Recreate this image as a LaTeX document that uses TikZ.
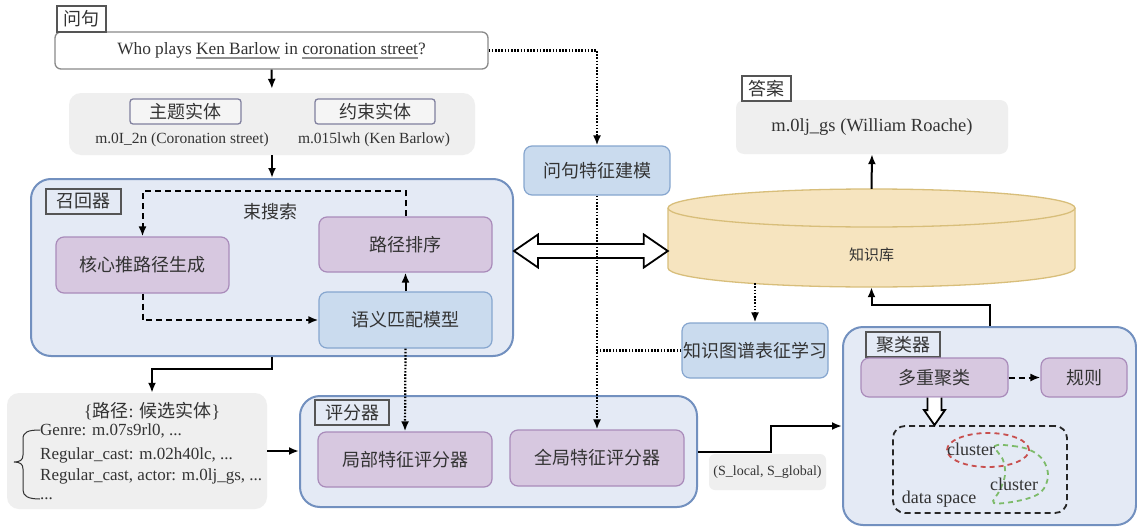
\documentclass[tikz,border=0pt]{standalone}
\usepackage{fontspec}
\setmainfont{Liberation Serif}
\newfontfamily\cjk{Noto Sans CJK SC}
\usetikzlibrary{calc,arrows.meta}
\definecolor{txt}{HTML}{333333}
\definecolor{purpfill}{HTML}{D7C8E0}
\definecolor{purpdraw}{HTML}{A98BBA}
\definecolor{blufill}{HTML}{CADBEE}
\definecolor{bludraw}{HTML}{86A6CF}
\definecolor{contfill}{HTML}{E4EAF5}
\definecolor{contdraw}{HTML}{7290BF}
\definecolor{grayfill}{HTML}{EFEFEF}
\definecolor{lbldraw}{HTML}{555555}
\definecolor{entdraw}{HTML}{80809E}
\definecolor{qdraw}{HTML}{8A8A8A}
\definecolor{ulgray}{HTML}{909090}
\definecolor{kbfill}{HTML}{F6E4BF}
\definecolor{kbdraw}{HTML}{D8BE7A}
\definecolor{redc}{HTML}{C8504F}
\definecolor{greenc}{HTML}{7DBB6A}
\newcommand{\cjkf}{\cjk\fontsize{18}{21}\selectfont}
\newcommand{\myul}[1]{\setbox0\hbox{#1}\rlap{\color{ulgray}\rule[-4.5pt]{\wd0}{1.8pt}}\box0\relax}
\tikzset{
  box/.style={rounded corners=8pt, line width=1.2pt, text=txt, font=\cjkf, inner sep=0pt},
  purp/.style={box, fill=purpfill, draw=purpdraw},
  blu/.style={box, fill=blufill, draw=bludraw},
  cont/.style={rounded corners=20pt, fill=contfill, draw=contdraw, line width=2pt, inner sep=0pt},
  lbl/.style={draw=lbldraw, line width=1.3pt, font=\cjkf, text=txt, inner sep=0pt},
  graybox/.style={rounded corners=12pt, fill=grayfill, draw=none, inner sep=0pt},
  entl/.style={draw=entdraw, fill=white!96!black, line width=1.3pt, rounded corners=3pt, font=\cjkf, text=txt, inner sep=0pt},
  serif/.style={font=\fontsize{15.5}{18}\selectfont, text=txt, inner sep=0pt},
  plist/.style={font=\fontsize{17}{20}\selectfont, text=txt, inner sep=0pt, anchor=west},
  arr/.style={line width=2pt, -{Latex[length=10pt,width=8pt]}},
  dsh/.style={arr, dash pattern=on 6pt off 4pt},
  dotl/.style={line width=2.2pt, dash pattern=on 1.6pt off 1.6pt},
  dotarr/.style={dotl, -{Latex[length=10pt,width=8pt]}},
  hollow/.style={fill=white, draw=black, line width=1.8pt, line join=miter},
}
\begin{document}
\begin{tikzpicture}[x=1pt,y=-1pt]
\useasboundingbox (0,0) rectangle (1137,527);
\fill[white] (0,0) rectangle (1137,527);

% question
\node[rounded corners=6pt, draw=qdraw, fill=white, line width=1.3pt, minimum width=433, minimum height=37, inner sep=0pt,
  font=\fontsize{17.3}{20}\selectfont, text=txt] (q) at (271.5,50.5) {Who plays \myul{Ken Barlow} in \myul{coronation street}?};
\node[lbl, fill=white, minimum width=49, minimum height=26] (ql) at (81.5,19) {问句};

% entities
\node[graybox, minimum width=406, minimum height=62] (ent) at (272,124) {};
\node[entl, minimum width=111, minimum height=25] (e1) at (185.5,111.5) {主题实体};
\node[entl, minimum width=120, minimum height=25] (e2) at (375,111.5) {约束实体};
\node[serif] (e1t) at (182,140) {m.0I\_2n (Coronation street)};
\node[serif] (e2t) at (374,140) {m.015lwh (Ken Barlow)};

% recall container
\node[cont, minimum width=482, minimum height=177] (rec) at (272,267.5) {};
\node[lbl, minimum width=75, minimum height=25] (recl) at (83.5,201.5) {召回器};
\node[purp, minimum width=173, minimum height=56] (core) at (142.5,265) {核心推路径生成};
\node[purp, minimum width=173, minimum height=55] (rank) at (405.5,244.5) {路径排序};
\node[blu, minimum width=173, minimum height=56] (sem) at (405.5,320) {语义匹配模型};
\node[font=\cjkf, text=txt, inner sep=0pt] (beam) at (270,212) {束搜索};

% paths box
\node[graybox, minimum width=260, minimum height=116] (paths) at (137,451) {};
\node[font=\fontsize{18}{21}\selectfont, text=txt, inner sep=0pt] (pt) at (152,411) {\{{\cjk 路径}: {\cjk 候选实体}\}};
\node[plist] (p1) at (40,431) {Genre: m.07s9rl0, ...};
\node[plist] (p2) at (40,455) {Regular\_cast: m.02h40lc, ...};
\node[plist] (p3) at (40,476) {Regular\_cast, actor: m.0lj\_gs, ...};
\node[plist, text height=3pt, text depth=0pt] (p4) at (40,498) {...};
\draw[txt, line width=1pt] (40,430) .. controls (28,430) and (23,432) .. (23,439) -- (23,455)
  .. controls (23,460) and (20,462) .. (14,462) .. controls (20,462) and (23,464) .. (23,469) -- (23,490)
  .. controls (23,496) and (28,499) .. (40,499);

% scorer
\node[cont, minimum width=397, minimum height=111] (score) at (498.5,451.5) {};
\node[lbl, minimum width=74, minimum height=25] (scorel) at (352,412.5) {评分器};
\node[purp, minimum width=174, minimum height=55] (local) at (405,459.5) {局部特征评分器};
\node[purp, minimum width=174, minimum height=56] (global) at (597,458) {全局特征评分器};

% question feature, kg learning
\node[blu, minimum width=146, minimum height=49] (qfeat) at (597,170.5) {问句特征建模};
\node[blu, minimum width=146, minimum height=55] (kgl) at (755,350.5) {知识图谱表征学习};

% knowledge base cylinder
\node[minimum width=407, minimum height=98, inner sep=0pt] (kb) at (871.5,238) {};
\fill[kbfill] (668,208) -- (668,268) arc[start angle=180, end angle=360, x radius=203.5pt, y radius=19pt] -- (1075,208) -- cycle;
\draw[kbdraw, line width=1.3pt] (668,208) -- (668,268) arc[start angle=180, end angle=360, x radius=203.5pt, y radius=19pt] -- (1075,208);
\filldraw[fill=kbfill, draw=kbdraw, line width=1.3pt] (871.5,208) ellipse [x radius=203.5pt, y radius=19pt];
\node[font=\cjk\fontsize{15}{18}\selectfont, text=txt, inner sep=0pt] (kbt) at (871.5,255) {知识库};

% answer
\node[graybox, rounded corners=8pt, minimum width=272, minimum height=54, font=\fontsize{18.5}{21}\selectfont, text=txt] (ans) at (872,127) {m.0lj\_gs (William Roache)};
\node[lbl, fill=white, minimum width=49, minimum height=25] (ansl) at (766.5,88.5) {答案};

% clusterer
\node[cont, minimum width=293, minimum height=198] (clu) at (989.5,426) {};
\node[lbl, minimum width=74, minimum height=25] (clul) at (903,344.5) {聚类器};
\node[purp, minimum width=147, minimum height=39] (multi) at (934.5,377.5) {多重聚类};
\node[purp, minimum width=86, minimum height=39] (rule) at (1084,377.5) {规则};
\node[draw=black!85, dash pattern=on 6pt off 4pt, line width=1.8pt, rounded corners=12pt, minimum width=174, minimum height=87, inner sep=0pt] (ds) at (980,469.5) {};
\draw[redc, line width=1.8pt, dash pattern=on 5pt off 4pt] (988,450) ellipse [x radius=41pt, y radius=17pt];
\draw[greenc, line width=1.8pt, dash pattern=on 5pt off 4pt] plot[smooth cycle, tension=0.6] coordinates {(995,446) (1013,446) (1030,450) (1043,460) (1048,476) (1041,492) (1022,500) (994,503) (1000,490) (1005,475) (1003,460)};
\node[font=\fontsize{18}{21}\selectfont, text=txt, inner sep=0pt] (c1) at (971,449) {cluster};
\node[font=\fontsize{18}{21}\selectfont, text=txt, inner sep=0pt] (c2) at (1014,484) {cluster};
\node[font=\fontsize{18}{21}\selectfont, text=txt, inner sep=0pt] (dst) at (939,499) {data space};

% score label
\node[graybox, rounded corners=6pt, minimum width=117, minimum height=36, font=\fontsize{14}{17}\selectfont, text=txt] (sg) at (767.5,472) {(S\_local, S\_global)};

% hollow double arrow
\coordinate (dl) at ($(rec.east)+(0,-16.5)$);
\coordinate (dr) at (kb.west |- dl);
\draw[hollow] (dl) -- ++(24,-16.5) -- ++(0,9.5) -- ($(dr)+(-24,-7)$) -- ++(0,-9.5) -- (dr) -- ++(-24,16.5) -- ++(0,-9.5) -- ($(dl)+(24,7)$) -- ++(0,9.5) -- cycle;

% hollow down arrow in clusterer
\coordinate (ha) at (multi.south);
\coordinate (hb) at (multi.south |- ds.north);
\draw[hollow] ($(ha)+(-7,0)$) -- ($(hb)+(-7,-15)$) -- ($(hb)+(-10.5,-15)$) -- (hb) -- ($(hb)+(10.5,-15)$) -- ($(hb)+(7,-15)$) -- ($(ha)+(7,0)$);

% connectors
\draw[arr, shorten >=4pt] (q.south) -- (ent.north);
\draw[arr] (ent.south) -- (rec.north);
\draw[dsh] (rank.north) -- ++(0,-25) -| (core.north);
\draw[dsh] (core.south) |- (sem.west);
\draw[arr] (sem.north) -- (rank.south);
\draw[arr] (rec.south) -- ++(0,12) -| ($(paths.north)+(15,0)$);
\draw[arr] (paths.east) -- (paths.east -| score.west);
\draw[dotarr] (sem.south) -- (local.north);
\draw[dotarr] (q.east) -| (qfeat.north);
\draw[dotarr] (qfeat.south) -- (global.north);
\draw[dotl] (kgl.west) -- (kgl.west -| qfeat.south);
\coordinate (kbd) at ($(kgl.north |- kb.south)+(0,-4)$);
\draw[dotarr] (kbd) -- (kgl.north);
\draw[arr] (kb.north) -- (ans.south);
\draw[arr] (clu.north) -- ++(0,-21) -| (kb.south);
\draw[arr] (score.east) -- ++(73,0) |- (clu.west);
\draw[dsh] (multi.east) -- (rule.west);
\end{tikzpicture}
\end{document}
